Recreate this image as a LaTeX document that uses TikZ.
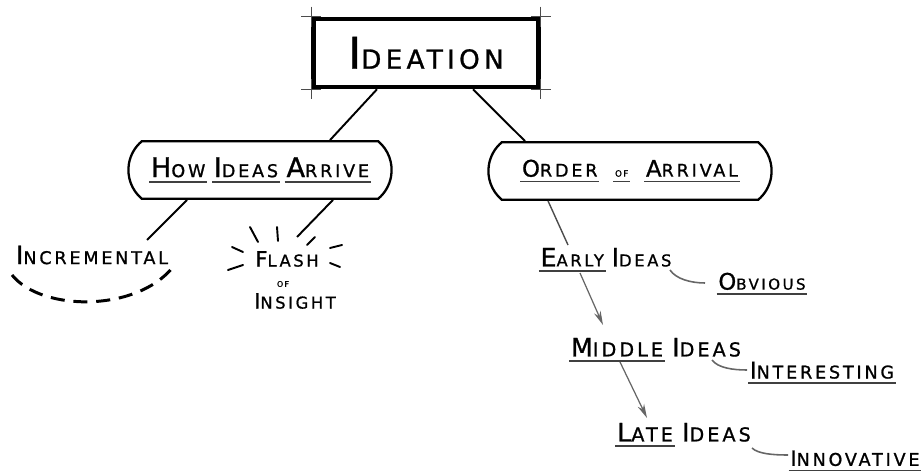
\documentclass[tikz,border=0pt]{standalone}
\usepackage{fontspec}
\setmainfont{DejaVu Sans}[LetterSpace=16,FakeBold=1]
\usepackage{relsize}
\usetikzlibrary{arrows.meta,calc,positioning,shapes.misc}

% big first letter, the rest in capitals
\newcommand\skw[3][1.4]{{\relscale{#1}#2}#3}
% hand-drawn underline
\newcommand\skul[1]{\setbox0=\hbox{#1}\rlap{\kern-1pt\color{black!75}\rule[-3.2pt]{\dimexpr\wd0+2pt\relax}{1pt}}\box0\relax}

\begin{document}
\begin{tikzpicture}[x=0.02cm,y=-0.02cm,
  word/.style={inner sep=0pt,font=\fontsize{10}{12}\selectfont},
  topbox/.style={draw,line width=2.6pt,minimum width=4.5cm,minimum height=1.36cm,
    font=\fontsize{15}{17}\selectfont},
  branch/.style={draw,line width=1.3pt,rounded rectangle,rounded rectangle arc length=100,
    minimum height=1.15cm,font=\fontsize{10}{12}\selectfont},
  link/.style={line width=1.1pt},
  flow/.style={black!60,line width=0.7pt,-{Stealth[length=8pt,width=4pt]}},
  hook/.style={black!60,line width=0.9pt},
  ray/.style={line width=1.1pt,line cap=round}]
  \useasboundingbox (0,0) rectangle (922,472);

  % top of the tree
  \node[topbox] (ideation) at (426,53) {\skw[1.65]{I}{DEATION}};
  \foreach \c in {north west,north east,south west,south east}
    \draw[line width=0.5pt,black!70] ($(ideation.\c)+(-10,0)$) -- ($(ideation.\c)+(10,0)$)
      ($(ideation.\c)+(0,-10)$) -- ($(ideation.\c)+(0,10)$);

  \node[branch,minimum width=5.5cm] (how) at (260,170)
    {\skul{\skw[1.55]{H}{OW}} \skul{\skw[1.55]{I}{DEAS}} \skul{\skw[1.55]{A}{RRIVE}}};
  \node[branch,minimum width=5.9cm] (order) at (630,171)
    {\skul{\skw[1.3]{O}{RDER}}\quad\skul{\fontsize{5}{6}\selectfont OF}\quad\skul{\skw[1.3]{A}{RRIVAL}}};

  \draw[link] ($(ideation.south)+(-49,0)$) -- ($(how.north)+(70,0)$);
  \draw[link] ($(ideation.south)+(47,0)$) -- ($(order.north)+(-105,0)$);

  % how ideas arrive
  \node[word] (incr) at (92,255) {\skw{I}{NCREMENTAL}};
  \node[word,font=\fontsize{9.3}{11}\selectfont] (flash) at (287,259) {\skw[1.25]{F}{LASH}};
  \node[word,font=\fontsize{4.5}{5}\selectfont] (of) at (283,284) {OF};
  \node[word,font=\fontsize{9.3}{11}\selectfont] (insight) at (295,301) {\skw[1.25]{I}{NSIGHT}};

  \draw[link] ($(how.south)+(-73,0)$) -- ($(incr)+(55,-15)$);
  \draw[link] ($(how.south)+(73,0)$) -- ($(flash)+(10,-22)$);

  \draw[line width=1.7pt,dash pattern=on 8pt off 5pt]
    ($(incr)+(-80,20)$) .. controls ($(incr)+(-50,57)$) and ($(incr)+(45,57)$) .. ($(incr)+(81,12)$);

  \foreach \xa/\ya/\xb/\yb in {-37/-32/-29/-17,-10/-32/-9/-18,20/-14/28/-22,
      -55/-12/-44/-7,-59/11/-44/6,43/-11/55/-14,43/4/53/8}
    \draw[ray] ($(flash)+(\xa,\ya)$) -- ($(flash)+(\xb,\yb)$);

  % order of arrival
  \node[word,font=\fontsize{9.3}{11}\selectfont] (early) at (606,260)
    {\skul{\skw[1.5]{E}{ARLY}} \skw[1.5]{I}{DEAS}};
  \node[word,font=\fontsize{8.6}{10}\selectfont] (obvious) at (762,284)
    {\skul{\skw[1.5]{O}{BVIOUS}}};
  \node[word,font=\fontsize{10.9}{13}\selectfont] (middle) at (656,350)
    {\skul{\skw[1.4]{M}{IDDLE}} \skw[1.4]{I}{DEAS}};
  \node[word] (inter) at (822,373) {\skul{\skw[1.3]{I}{NTERESTING}}};
  \node[word,font=\fontsize{10.9}{13}\selectfont] (late) at (684,435)
    {\skul{\skw[1.4]{L}{ATE}} \skw[1.4]{I}{DEAS}};
  \node[word] (innov) at (855,461) {\skul{\skw[1.15]{I}{NNOVATIVE}}};

  \draw[black!70,line width=0.8pt] ($(order.south)+(-82,0)$) -- ($(early)+(-38,-15)$);
  \draw[flow] ($(early)+(-26,13)$) -- ($(middle)+(-53,-25)$);
  \draw[flow] ($(middle)+(-36,12)$) -- ($(late)+(-37,-17)$);

  \draw[hook] ($(early)+(64,10)$) .. controls +(6,9) and +(-14,0) .. ($(obvious)+(-57,-1)$);
  \draw[hook] ($(middle)+(56,10)$) .. controls +(6,8) and +(-14,0) .. ($(inter)+(-75,-3)$);
  \draw[hook] ($(late)+(68,13)$) .. controls +(6,6) and +(-14,0) .. ($(innov)+(-67,-6)$);
\end{tikzpicture}
\end{document}
